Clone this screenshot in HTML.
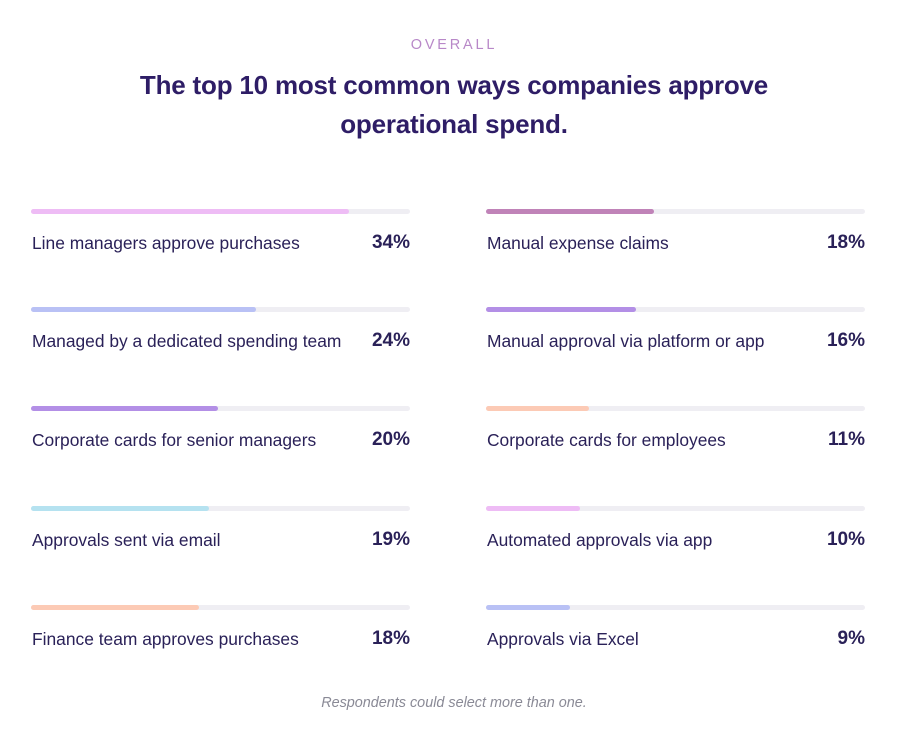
<!DOCTYPE html>
<html><head><meta charset="utf-8"><style>
body{margin:0;width:908px;height:731px;background:#fff;font-family:"Liberation Sans",sans-serif;position:relative;overflow:hidden}
.kicker{position:absolute;top:37px;left:0;width:908px;text-align:center;font-size:14.5px;letter-spacing:2.8px;color:#b888c8}
.title{position:absolute;top:66px;left:0;width:908px;text-align:center;font-size:26px;line-height:39px;font-weight:bold;color:#2e1d66;letter-spacing:-0.2px}
.note{position:absolute;top:695px;left:0;width:908px;text-align:center;font-size:14.4px;font-style:italic;color:#8a8a96}
.track{position:absolute;height:5px;border-radius:3px;background:#efeef3}
.fill{position:absolute;left:0;top:0;height:5px;border-radius:3px}
.lab{position:absolute;font-size:17.4px;color:#2a2158}
.val{position:absolute;font-size:19px;font-weight:bold;color:#2a2158;text-align:right;width:70px}
</style></head><body>
<div class="kicker">OVERALL</div>
<div class="title">The top 10 most common ways companies approve<br>operational spend.</div>
<div id="chart"></div>
<div class="note">Respondents could select more than one.</div>
<script>
const leftLabels=["Line managers approve purchases","Managed by a dedicated spending team","Corporate cards for senior managers","Approvals sent via email","Finance team approves purchases"];
const leftValues=[34,24,20,19,18];
const rightLabels=["Manual expense claims","Manual approval via platform or app","Corporate cards for employees","Automated approvals via app","Approvals via Excel"];
const rightValues=[18,16,11,10,9];
const leftColors=["#eebcf5","#b9c1f5","#b38fe6","#b5e2f0","#fccab5"];
const rightColors=["#c083b8","#b38fe6","#fccab5","#eebcf5","#b9c1f5"];
const domainMax=40.5, trackW=379;
const rowY=[209,307,406,506,605];
function x(v){return v/domainMax*trackW;}
const chart=document.getElementById('chart');
function col(labels,values,colors,x0,side){
  labels.forEach((l,i)=>{
    const t=document.createElement('div');t.className='track';
    
    
    t.style.left=x0+'px';t.style.top=rowY[i]+'px';t.style.width=trackW+'px';
    const f=document.createElement('div');f.className='fill';
    
    
    f.style.width=x(values[i])+'px';f.style.background=colors[i];
    t.appendChild(f);chart.appendChild(t);
    const a=document.createElement('div');a.className='lab';
    
    
    a.textContent=l;a.style.left=(x0+1)+'px';a.style.top=(rowY[i]+24)+'px';chart.appendChild(a);
    const v=document.createElement('div');v.className='val';
    
    
    v.textContent=values[i]+'%';v.style.left=(x0+trackW-70)+'px';v.style.top=(rowY[i]+23)+'px';chart.appendChild(v);
  });
}
col(leftLabels,leftValues,leftColors,31,'left');
col(rightLabels,rightValues,rightColors,486,'right');
</script>
</body></html>
